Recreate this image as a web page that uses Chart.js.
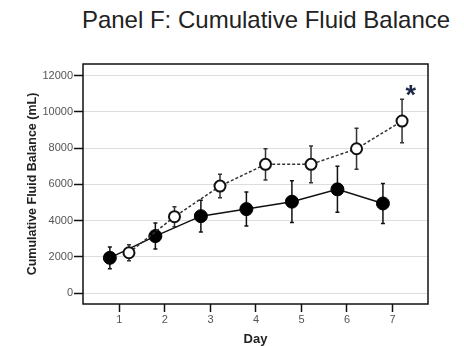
<!DOCTYPE html>
<html>
<head>
<meta charset="utf-8">
<script src="https://cdn.jsdelivr.net/npm/chart.js@4"></script>
<style>
  html, body { margin: 0; padding: 0; background: #fff; overflow: hidden; }
  #wrap { position: relative; width: 464px; height: 346px; }
  #title {
    position: absolute; top: 6px; left: 68px; width: 396px;
    text-align: center; font: 24px "Liberation Sans", Arial, sans-serif; color: #222;
  }
  canvas { position: absolute; left: 0; top: 0; }
</style>
</head>
<body>
<div id="wrap">
  <div id="title">Panel F: Cumulative Fluid Balance</div>
  <canvas id="chart" width="464" height="346"></canvas>
</div>
<script>
// Data
const days = [1, 2, 3, 4, 5, 6, 7];
const filledMean = [1950, 3150, 4250, 4640, 5050, 5730, 4950];
const filledErr = [600, 720, 880, 940, 1150, 1270, 1100];
const openMean = [2230, 4220, 5910, 7110, 7110, 7970, 9500];
const openErr = [440, 550, 650, 860, 1010, 1130, 1200];
const yTicks = [0, 2000, 4000, 6000, 8000, 10000, 12000];
const sigDay = 7;           // day marked with *
const dodge = 0.21;         // groups are offset left/right of each day

const fontFam = '"Liberation Sans", Arial, sans-serif';

function toPoints(means, shift) {
    return days.map((d, i) => ({ x: d + shift, y: means[i] }));
}

// error bars drawn under the markers
const errorBars = {
    id: 'errorBars',
    beforeDatasetsDraw(chart) {
        const ctx = chart.ctx;
        const xs = chart.scales.x, ys = chart.scales.y;
        const groups = [
            { means: filledMean, errs: filledErr, shift: -dodge, color: '#111' },
            { means: openMean, errs: openErr, shift: dodge, color: '#333' }
        ];
        ctx.save();
        ctx.lineWidth = 1.5;
        groups.forEach(g => {
            ctx.strokeStyle = g.color;
            days.forEach((d, i) => {
                const px = xs.getPixelForValue(d + g.shift);
                const top = ys.getPixelForValue(g.means[i] + g.errs[i]);
                const bot = ys.getPixelForValue(g.means[i] - g.errs[i]);
                ctx.beginPath();
                ctx.moveTo(px, top); ctx.lineTo(px, bot);
                ctx.moveTo(px - 2, top); ctx.lineTo(px + 2, top);
                ctx.moveTo(px - 2, bot); ctx.lineTo(px + 2, bot);
                ctx.stroke();
            });
        });
        ctx.restore();
    },
    afterDraw(chart) {
        const ctx = chart.ctx;
        const a = chart.chartArea;
        ctx.save();
        // frame around plot
        ctx.strokeStyle = '#111';
        ctx.lineWidth = 1.5;
        ctx.strokeRect(a.left, a.top, a.right - a.left, a.bottom - a.top);
        // significance asterisk
        const i = days.indexOf(sigDay);
        const px = chart.scales.x.getPixelForValue(sigDay + dodge + 0.19);
        const py = chart.scales.y.getPixelForValue(openMean[i] + openErr[i] + 570);
        ctx.fillStyle = '#1c2847';
        ctx.font = 'bold 27px ' + fontFam;
        ctx.textAlign = 'center';
        ctx.textBaseline = 'alphabetic';
        ctx.fillText('*', px, py + 27 * 0.57);
        ctx.restore();
    }
};

new Chart(document.getElementById('chart'), {
    type: 'line',
    data: {
        datasets: [
            {
                label: 'Filled',
                data: toPoints(filledMean, -dodge),
                borderColor: '#111',
                borderWidth: 1.5,
                pointRadius: 6.5,
                pointBackgroundColor: '#000',
                pointBorderColor: '#000',
                pointBorderWidth: 1,
                tension: 0,
                order: 1
            },
            {
                label: 'Open',
                data: toPoints(openMean, dodge),
                borderColor: '#333',
                borderWidth: 1.5,
                borderDash: [3, 2],
                pointRadius: 5.5,
                pointBackgroundColor: '#fff',
                pointBorderColor: '#111',
                pointBorderWidth: 2,
                tension: 0,
                order: 0
            }
        ]
    },
    options: {
        responsive: false,
        animation: false,
        layout: { padding: { left: 0, top: 64, right: 36, bottom: 0 } },
        plugins: {
            legend: { display: false },
            tooltip: { enabled: false }
        },
        scales: {
            x: {
                type: 'linear',
                min: 0.2,
                max: 7.78,
                afterBuildTicks: axis => { axis.ticks = days.map(v => ({ value: v })); },
                afterFit: axis => { axis.height = 42; },
                border: { display: false },
                grid: { drawOnChartArea: false, tickColor: '#111', tickLength: 8, tickWidth: 1.5 },
                ticks: { color: '#555', font: { family: fontFam, size: 11 }, padding: 1, maxRotation: 0 },
                title: {
                    display: true, text: 'Day', color: '#222',
                    font: { family: fontFam, size: 13, weight: 'bold', lineHeight: 1 },
                    padding: { top: 0, bottom: 0 }
                }
            },
            y: {
                min: -600,
                max: 12650,
                afterBuildTicks: axis => { axis.ticks = yTicks.map(v => ({ value: v })); },
                afterFit: axis => { axis.width = 83; },
                border: { display: false },
                grid: { color: '#dddddd', lineWidth: 1, tickColor: '#111', tickLength: 9, tickWidth: 1.5 },
                ticks: {
                    color: '#555', font: { family: fontFam, size: 11 }, padding: 1,
                    callback: v => String(v)
                },
                title: {
                    display: true, text: 'Cumulative Fluid Balance (mL)', color: '#222',
                    font: { family: fontFam, size: 12.5, weight: 'bold', lineHeight: 1 },
                    padding: { top: 26, bottom: 0 }
                }
            }
        }
    },
    plugins: [errorBars]
});
</script>
</body>
</html>
